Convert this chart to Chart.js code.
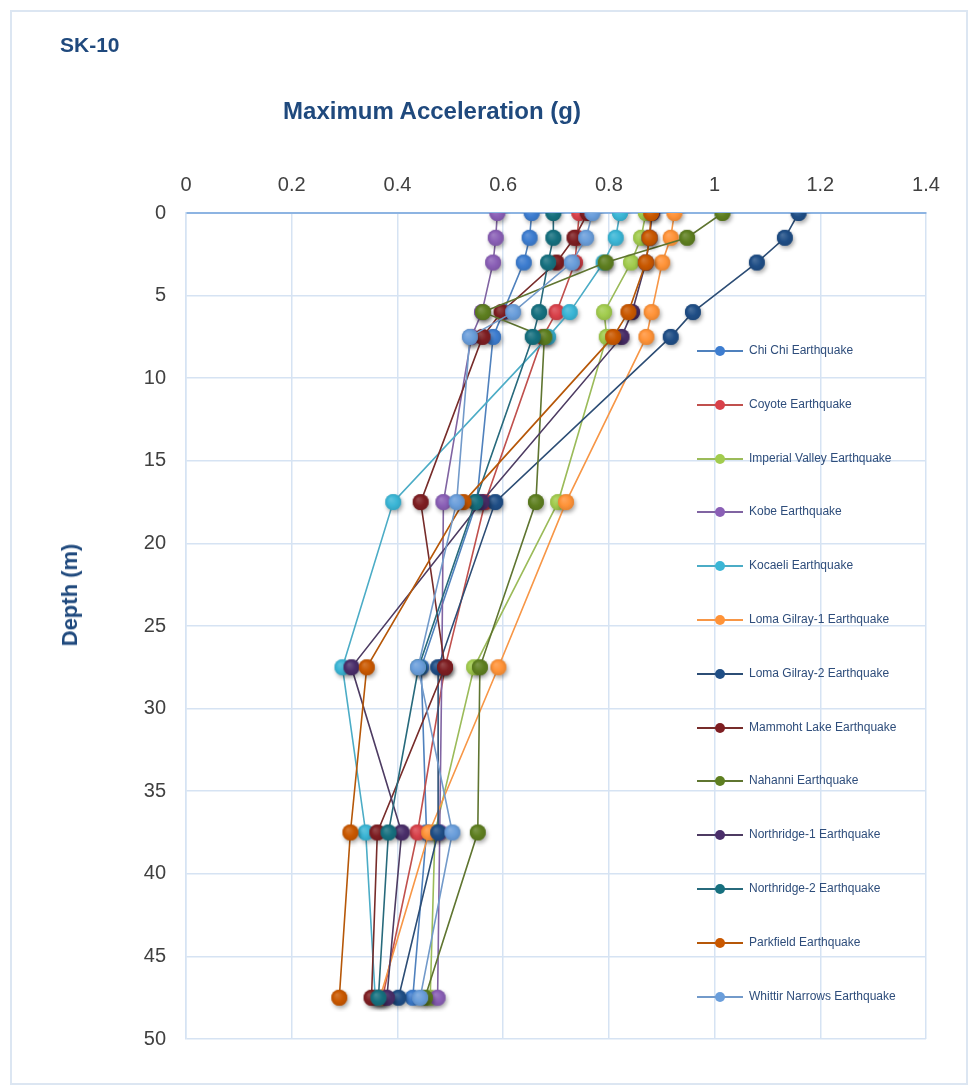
<!DOCTYPE html>
<html>
<head>
<meta charset="utf-8">
<title>SK-10 Maximum Acceleration</title>
<script src="https://cdn.jsdelivr.net/npm/chart.js@4.4.1/dist/chart.umd.min.js"></script>
<style>
  html, body { margin: 0; padding: 0; background: #ffffff; }
  #wrap { position: relative; width: 970px; height: 1088px; overflow: hidden;
          font-family: "Liberation Sans", Arial, sans-serif; }
  #frame { position: absolute; left: 10px; top: 10px; width: 958px; height: 1075px;
           border: 2px solid #DCE6F2; box-sizing: border-box; }
  #chart { position: absolute; left: 0; top: 0; }
  .label { position: absolute; color: #1F497D; font-weight: bold; white-space: nowrap; }
  #sk { left: 60px; top: 45px; font-size: 21px; transform: translateY(-50%); }
  #xtitle { left: 432px; top: 111px; font-size: 24px; transform: translate(-50%, -50%); }
  #ytitle { left: 70px; top: 595px; font-size: 22px; transform: translate(-50%, -50%) rotate(-90deg); }
  #legend { position: absolute; left: 697px; top: 0; }
  .item { position: absolute; left: 0; width: 230px; height: 20px; }
  .item .ln { position: absolute; left: 0; top: 9px; width: 46px; height: 2px; }
  .item .dot { position: absolute; left: 18px; top: 5px; width: 10px; height: 10px; border-radius: 50%; }
  .item .tx { position: absolute; left: 52px; top: 2px; font-size: 12px; color: #2E4D7B; white-space: nowrap; }
</style>
</head>
<body>
<div id="wrap">
  <div id="frame"></div>
  <canvas id="chart" width="970" height="1088"></canvas>
  <div class="label" id="sk">SK-10</div>
  <div class="label" id="xtitle">Maximum Acceleration (g)</div>
  <div class="label" id="ytitle">Depth (m)</div>
  <div id="legend"></div>
</div>
<script>
// Depths (m) where the peak acceleration was recorded
const depths = [0, 1.5, 3, 6, 7.5, 17.5, 27.5, 37.5, 47.5];

// Peak acceleration (g) per earthquake record, one value per depth
const chiChi       = [0.654, 0.650, 0.639, 0.600, 0.581, 0.550, 0.445, 0.455, 0.429];
const coyote       = [0.744, 0.740, 0.736, 0.701, 0.675, 0.566, 0.490, 0.438, 0.372];
const imperial     = [0.870, 0.861, 0.842, 0.791, 0.796, 0.704, 0.545, 0.471, 0.462];
const kobe         = [0.589, 0.586, 0.581, 0.560, 0.540, 0.487, 0.484, 0.480, 0.476];
const kocaeli      = [0.821, 0.813, 0.790, 0.726, 0.685, 0.392, 0.296, 0.340, 0.358];
const lomaGilroy1  = [0.924, 0.917, 0.901, 0.881, 0.871, 0.719, 0.591, 0.460, 0.367];
const lomaGilroy2  = [1.159, 1.133, 1.080, 0.959, 0.917, 0.585, 0.477, 0.477, 0.402];
const mammoth      = [0.760, 0.735, 0.701, 0.597, 0.561, 0.444, 0.490, 0.362, 0.351];
const nahanni      = [1.015, 0.948, 0.794, 0.562, 0.678, 0.662, 0.556, 0.552, 0.452];
const northridge1  = [0.882, 0.877, 0.870, 0.844, 0.824, 0.559, 0.313, 0.408, 0.380];
const northridge2  = [0.695, 0.695, 0.685, 0.668, 0.656, 0.547, 0.440, 0.383, 0.364];
const parkfield    = [0.880, 0.877, 0.870, 0.837, 0.808, 0.525, 0.342, 0.311, 0.290];
const whittier     = [0.769, 0.757, 0.730, 0.619, 0.537, 0.512, 0.439, 0.504, 0.443];

// Axis tick labels
const xTickLabels = ['0', '0.2', '0.4', '0.6', '0.8', '1', '1.2', '1.4'];
const yTickLabels = ['0', '5', '10', '15', '20', '25', '30', '35', '40', '45', '50'];

const seriesNames = [
  'Chi Chi Earthquake', 'Coyote Earthquake', 'Imperial Valley Earthquake', 'Kobe Earthquake',
  'Kocaeli Earthquake', 'Loma Gilray-1 Earthquake', 'Loma Gilray-2 Earthquake',
  'Mammoht Lake Earthquake', 'Nahanni Earthquake', 'Northridge-1 Earthquake',
  'Northridge-2 Earthquake', 'Parkfield Earthquake', 'Whittir Narrows Earthquake'
];
const seriesValues = [chiChi, coyote, imperial, kobe, kocaeli, lomaGilroy1, lomaGilroy2,
  mammoth, nahanni, northridge1, northridge2, parkfield, whittier];
const seriesColors = ['#4F81BD', '#C0504D', '#9BBB59', '#8064A2', '#4BACC6', '#F79646',
  '#2C4D75', '#772C2A', '#5F7530', '#4D3B62', '#276A7C', '#B65708', '#729ACA'];
// Brighter fills used for the round markers
const markerColors = ['#3D7DD0', '#D9414A', '#A2CC4E', '#8A5FB6', '#3BB6D6', '#FF9338',
  '#1F4E86', '#7E1E22', '#5E7F20', '#4A2E6A', '#16707F', '#C95800', '#6A9EDB'];

function shade(hex, f) {
  const n = parseInt(hex.slice(1), 16);
  let r = (n >> 16) & 255, g = (n >> 8) & 255, b = n & 255;
  if (f >= 0) { r += (255 - r) * f; g += (255 - g) * f; b += (255 - b) * f; }
  else { r *= 1 + f; g *= 1 + f; b *= 1 + f; }
  return 'rgb(' + Math.round(r) + ',' + Math.round(g) + ',' + Math.round(b) + ')';
}
// Round marker with a light highlight and a soft drop shadow
function makeMarker(color) {
  const c = document.createElement('canvas');
  c.width = 28; c.height = 28;
  const g = c.getContext('2d');
  const cx = 14, cy = 14, r = 8;
  g.save();
  g.shadowColor = 'rgba(0,0,0,0.35)';
  g.shadowBlur = 4;
  g.shadowOffsetX = 1.5;
  g.shadowOffsetY = 2.5;
  g.beginPath(); g.arc(cx, cy, r, 0, Math.PI * 2);
  g.fillStyle = color; g.fill();
  g.restore();
  const grad = g.createRadialGradient(cx - 2.5, cy - 3, 0.5, cx, cy, r);
  grad.addColorStop(0, shade(color, 0.18));
  grad.addColorStop(0.6, color);
  grad.addColorStop(1, shade(color, -0.1));
  g.beginPath(); g.arc(cx, cy, r, 0, Math.PI * 2);
  g.fillStyle = grad; g.fill();
  return c;
}

const datasets = seriesNames.map((name, i) => ({
  label: name,
  data: depths.map((d, k) => ({ x: seriesValues[i][k], y: d })),
  showLine: true,
  borderColor: seriesColors[i],
  backgroundColor: markerColors[i],
  borderWidth: 1.6,
  pointStyle: makeMarker(markerColors[i]),
  pointRadius: 8,
  pointHoverRadius: 8,
  tension: 0,
  order: seriesNames.length - i
}));

const gridColor = '#D6E3F3';

new Chart(document.getElementById('chart'), {
  type: 'scatter',
  data: { datasets },
  options: {
    responsive: false,
    animation: false,
    events: [],
    layout: { padding: { left: 0, top: 0, right: 44, bottom: 49 } },
    plugins: { legend: { display: false }, tooltip: { enabled: false } },
    scales: {
      x: {
        type: 'linear', position: 'top', min: 0, max: 1.4,
        afterFit: s => { s.height = 213; },
        ticks: {
          stepSize: 0.2, padding: 16, color: '#404040',
          font: { family: '"Liberation Sans", Arial, sans-serif', size: 20 },
          callback: v => xTickLabels[Math.round(v / 0.2)]
        },
        grid: { color: gridColor, lineWidth: 1.5, drawTicks: false },
        border: { color: '#8DB4E2', width: 2 }
      },
      y: {
        type: 'linear', reverse: true, min: 0, max: 50,
        afterFit: s => { s.width = 186; },
        ticks: {
          stepSize: 5, padding: 20, color: '#404040',
          font: { family: '"Liberation Sans", Arial, sans-serif', size: 20 },
          callback: v => yTickLabels[Math.round(v / 5)]
        },
        grid: { color: gridColor, lineWidth: 1.5, drawTicks: false },
        border: { color: gridColor, width: 1.5 }
      }
    }
  }
});

// Legend on the right side of the plot
const legend = document.getElementById('legend');
seriesNames.forEach((name, i) => {
  const item = document.createElement('div');
  item.className = 'item';
  item.style.top = (341 + i * 53.8) + 'px';
  item.innerHTML = '<div class="ln" style="background:' + seriesColors[i] + '"></div>' +
    '<div class="dot" style="background:' + markerColors[i] + '"></div>' +
    '<div class="tx">' + name + '</div>';
  legend.appendChild(item);
});
</script>
</body>
</html>
